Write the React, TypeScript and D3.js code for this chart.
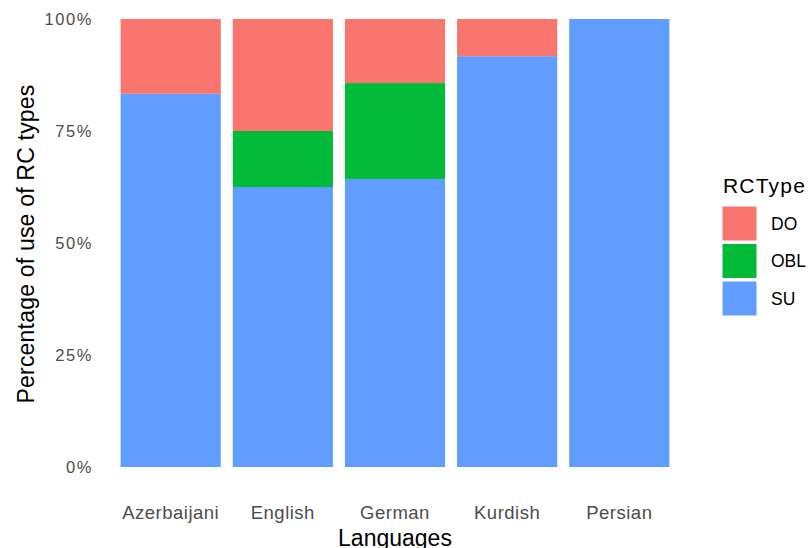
import * as d3 from "d3"

const languages = ["Azerbaijani", "English", "German", "Kurdish", "Persian"]
const rcTypes = ["DO", "OBL", "SU"]
// shares per language, stacking order bottom -> top: SU, OBL, DO
const suShare = [0.833, 0.625, 0.643, 0.917, 1.0]
const oblShare = [0, 0.125, 0.214, 0, 0]
const doShare = [0.167, 0.25, 0.143, 0.083, 0]
const yTicks = [0, 0.25, 0.5, 0.75, 1]

const colors: Record<string, string> = { DO: "#F8766D", OBL: "#00BA38", SU: "#619CFF" }

export default function App() {
    const width = 811
    const height = 548
    const font = "'Liberation Sans', Arial, sans-serif"

    const rows = languages.map((lang, i) => ({
        lang,
        SU: suShare[i],
        OBL: oblShare[i],
        DO: doShare[i],
    }))

    const stack = d3.stack<any>().keys(["SU", "OBL", "DO"])
    const series = stack(rows)

    const x = d3
        .scaleBand()
        .domain(languages)
        .range([115, 675])
        .paddingInner(0.107)
        .paddingOuter(0.05)

    const y = d3.scaleLinear().domain([0, 1]).range([467, 19])

    return (
        <svg
            width={width}
            height={height}
            style={{ position: "absolute", left: 0, top: 0, background: "#fff" }}
            fontFamily={font}
        >
            {/* Bars */}
            {series.map((s) => (
                <g key={s.key} fill={colors[s.key]}>
                    {s.map((d, i) =>
                        d[1] - d[0] > 0 ? (
                            <rect
                                key={i}
                                x={x(d.data.lang)}
                                width={x.bandwidth()}
                                y={y(d[1])}
                                height={y(d[0]) - y(d[1])}
                            />
                        ) : null
                    )}
                </g>
            ))}

            {/* Y axis labels */}
            {yTicks.map((t) => (
                <text
                    key={t}
                    x={93}
                    y={y(t)}
                    dy="0.36em"
                    textAnchor="end"
                    fontSize={16.5}
                    letterSpacing={1.6}
                    fill="#4D4D4D"
                >
                    {d3.format(".0%")(t)}
                </text>
            ))}

            {/* X axis labels */}
            {languages.map((l) => (
                <text
                    key={l}
                    x={(x(l) ?? 0) + x.bandwidth() / 2}
                    y={518.5}
                    textAnchor="middle"
                    fontSize={18.5}
                    letterSpacing={0.5}
                    fill="#4D4D4D"
                >
                    {l}
                </text>
            ))}

            {/* Axis titles */}
            <text x={395} y={545.5} textAnchor="middle" fontSize={23} fill="#000">
                Languages
            </text>
            <text
                transform="translate(34,244) rotate(-90)"
                textAnchor="middle"
                fontSize={23}
                letterSpacing={0.2}
                fill="#000"
            >
                Percentage of use of RC types
            </text>

            {/* Legend */}
            <text x={723} y={192.5} fontSize={21} letterSpacing={1.2} fill="#000">
                RCType
            </text>
            {rcTypes.map((k, i) => (
                <g key={k} transform={`translate(722,${206 + i * 37.5})`}>
                    <rect width={35} height={35} fill={colors[k]} stroke="#fff" strokeWidth={1} />
                    <text x={49} y={17.5} dy="0.36em" fontSize={17.5} fill="#000">
                        {k}
                    </text>
                </g>
            ))}
        </svg>
    )
}
